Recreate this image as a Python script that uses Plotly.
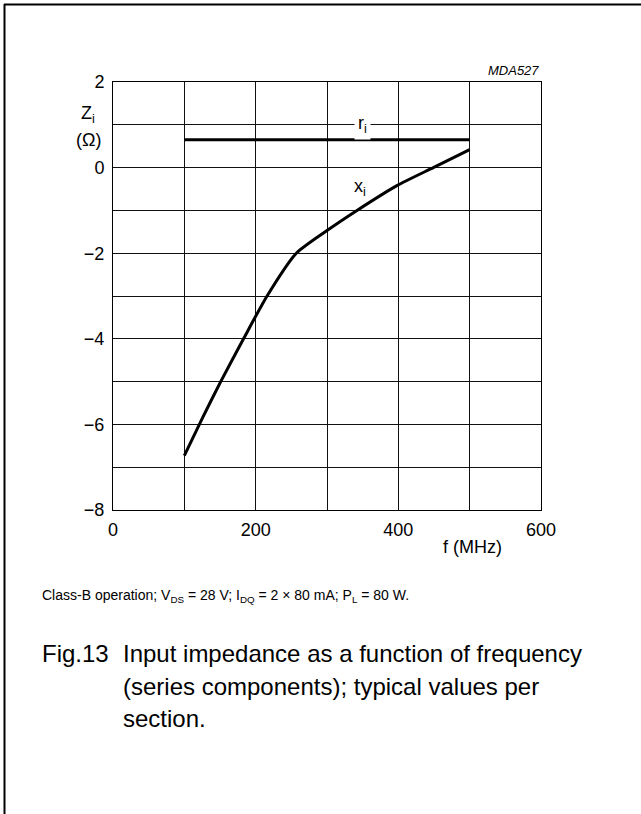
import plotly.graph_objects as go

# ---- data ----
freq_r = [100, 500]
r_i = [0.65, 0.65]

freq_x = [100, 126, 151, 183, 216, 257, 300, 342, 398, 449, 500]
x_i = [-6.73, -5.83, -5.0, -4.0, -3.0, -2.0, -1.47, -1.0, -0.42, 0.0, 0.42]

x_tickvals = [0, 100, 200, 300, 400, 500, 600]
x_ticktext = ["0", "", "200", "", "400", "", "600"]
y_tickvals = [-8, -7, -6, -5, -4, -3, -2, -1, 0, 1, 2]
y_ticktext = ["\u22128", "", "\u22126", "", "\u22124", "", "\u22122", "", "0", "", "2"]

# ---- layout geometry (pixels) ----
W, H = 641, 814
L, R, T, B = 113, 541, 82, 510
PW, PH = R - L, B - T


def px(x):
    return (x - L) / PW


def py(y):
    return (B - y) / PH


FONT = "Liberation Sans, Arial, sans-serif"

fig = go.Figure()
fig.add_trace(go.Scatter(x=freq_r, y=r_i, mode="lines",
                         line=dict(color="black", width=3), hoverinfo="skip"))
fig.add_trace(go.Scatter(x=freq_x, y=x_i, mode="lines", line_shape="spline",
                         line=dict(color="black", width=3, smoothing=0.6), hoverinfo="skip"))

axis_common = dict(showline=True, linecolor="black", linewidth=1, mirror=True,
                   showgrid=True, gridcolor="#111", gridwidth=1, zeroline=False,
                   ticks="outside", tickcolor="white", tickfont=dict(family=FONT, size=18, color="black"))

fig.update_xaxes(range=[0, 600], tickmode="array", tickvals=x_tickvals, ticktext=x_ticktext,
                 ticklen=3, **axis_common)
fig.update_yaxes(range=[-8, 2], tickmode="array", tickvals=y_tickvals, ticktext=y_ticktext,
                 ticklen=4, **axis_common)


def label(x, y, text, size=18, xanchor="center", xref="paper", yref="paper", **kw):
    return dict(x=x, y=y, xref=xref, yref=yref, text=text, showarrow=False,
                xanchor=xanchor, yanchor="middle",
                font=dict(family=FONT, size=size, color="black"), **kw)


ann = [
    label(350, 1.0, "r<sub>i</sub>", xref="x", yref="y", bgcolor="white", borderpad=3),
    label(346, -0.47, "x<sub>i</sub>", xref="x", yref="y"),
    label(px(88), py(114), "Z<sub>i</sub>"),
    label(px(88), py(140), "(\u03a9)"),
    label(px(472), py(547), "f (MHz)"),
    label(1.0, py(70), "<i>MDA527</i>", size=13, xanchor="right"),
    label(px(40), py(596),
          "Class-B operation; V<sub>DS</sub> = 28 V; I<sub>DQ</sub> = 2 \u00d7 80 mA; P<sub>L</sub> = 80 W.",
          size=14, xanchor="left"),
    label(px(40), py(653), "Fig.13", size=24, xanchor="left"),
]
for text, ypix in [("Input impedance as a function of frequency", 653),
                   ("(series components); typical values per", 686),
                   ("section.", 718)]:
    ann.append(label(px(121), py(ypix), text, size=24, xanchor="left"))

shapes = [
    dict(type="line", xref="paper", yref="paper", x0=px(4.5), x1=px(4.5), y0=py(4), y1=py(814),
         line=dict(color="black", width=2)),
    dict(type="line", xref="paper", yref="paper", x0=px(4), x1=px(641), y0=py(4.5), y1=py(4.5),
         line=dict(color="black", width=2)),
]

fig.update_layout(width=W, height=H, margin=dict(l=L, r=W - R, t=T, b=H - B, pad=0),
                  paper_bgcolor="white", plot_bgcolor="white", showlegend=False,
                  annotations=ann, shapes=shapes)

fig.write_html("out.html", config={"displayModeBar": False},
               post_script="document.body.style.margin='0px';")
